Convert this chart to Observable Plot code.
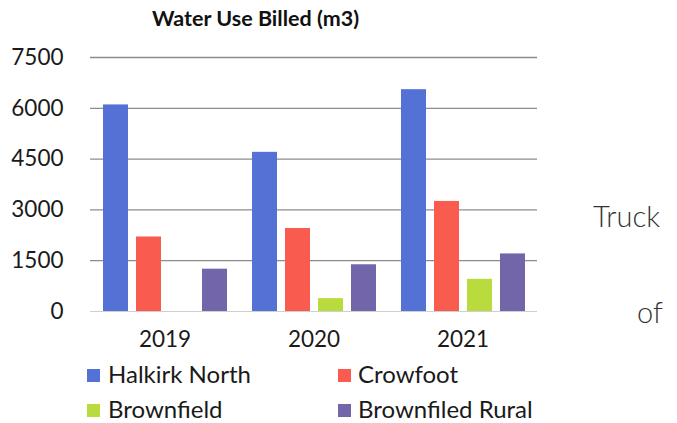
<!DOCTYPE html>
<html>
<head>
<meta charset="utf-8">
<script src="https://cdn.jsdelivr.net/npm/d3@7"></script>
<script src="https://cdn.jsdelivr.net/npm/@observablehq/plot@0.6"></script>
<style>
  html, body { margin: 0; padding: 0; background: #fff; }
  #wrap { position: relative; width: 677px; height: 423px; overflow: hidden; font-family: Lato, "Noto Sans", sans-serif; color: #1a1a1a; }
  #chart { position: absolute; left: 0; top: 0; }
  .abs { position: absolute; line-height: 1; white-space: nowrap; }
  #title { font-weight: 700; font-size: 21.5px; left: 152px; top: 8px; color: #111; }
  .side { font-size: 29px; font-weight: 300; color: #333; }
  .item { position: absolute; font-size: 24px; line-height: 1; white-space: nowrap; }
  .sw { position: absolute; width: 13px; height: 13px; }
</style>
</head>
<body>
<div id="wrap">
  <div id="chart"></div>
  <div id="title" class="abs">Water Use Billed (m3)</div>
  <div class="abs side" style="left:593px; top:201px;">Truck</div>
  <div class="abs side" style="left:637px; top:297px;">of</div>
  <div id="legend"></div>
</div>
<script>
// Billing years and sites
const years = ["2019", "2020", "2021"];
const series = ["Halkirk North", "Crowfoot", "Brownfield", "Brownfiled Rural"];

// Water billed per site (m3), one value per year
const halkirkNorth = [6100, 4700, 6550];
const crowfoot = [2200, 2450, 3250];
const brownfield = [null, 380, 950];
const brownfiledRural = [1250, 1380, 1700];

const yTicks = [0, 1500, 3000, 4500, 6000, 7500];
const colors = ["#5472d6", "#fa5b4f", "#badb3e", "#7265aa"];

const bySeries = [halkirkNorth, crowfoot, brownfield, brownfiledRural];
const rows = [];
years.forEach((year, i) => {
  series.forEach((name, j) => {
    const v = bySeries[j][i];
    if (v != null) rows.push({year, series: name, value: v});
  });
});

const chart = Plot.plot({
  width: 560,
  height: 360,
  marginLeft: 90,
  marginRight: 23,
  marginTop: 57,
  marginBottom: 49,
  style: {fontFamily: "Lato, 'Noto Sans', sans-serif", fontSize: "22.5px", color: "#1a1a1a", background: "transparent"},
  fx: {domain: years, padding: 0, label: null},
  x: {domain: series, paddingInner: 0.25, paddingOuter: 0.366, axis: null},
  y: {domain: [0, 7500], label: null},
  color: {domain: series, range: colors},
  marks: [
    Plot.gridY(yTicks.filter(d => d > 0), {stroke: "#8c8c8c", strokeOpacity: 1, strokeWidth: 1.3}),
    Plot.ruleY([0], {stroke: "#cfcfcf", strokeWidth: 1.2}),
    Plot.barY(rows, {fx: "year", x: "series", y: "value", fill: "series"}),
    Plot.axisY(yTicks, {tickSize: 0, tickPadding: 27, label: null, fill: "#1a1a1a", tickFormat: d3.format("d")}),
    Plot.axisFx({anchor: "bottom", tickSize: 0, tickPadding: 19.7, label: null, fill: "#1a1a1a"})
  ]
});
document.getElementById("chart").appendChild(chart);

// Legend: two columns, two rows
const legend = document.getElementById("legend");
const swLeft = [87, 338], textLeft = [108, 358], rowTop = [362, 397], swTop = [369, 404];
series.forEach((name, k) => {
  const col = k % 2, row = Math.floor(k / 2);
  const sw = document.createElement("div");
  sw.className = "sw";
  sw.style.left = swLeft[col] + "px";
  sw.style.top = swTop[row] + "px";
  sw.style.background = colors[k];
  legend.appendChild(sw);
  const t = document.createElement("div");
  t.className = "item";
  t.style.left = textLeft[col] + "px";
  t.style.top = rowTop[row] + "px";
  t.textContent = name;
  legend.appendChild(t);
});
</script>
</body>
</html>
